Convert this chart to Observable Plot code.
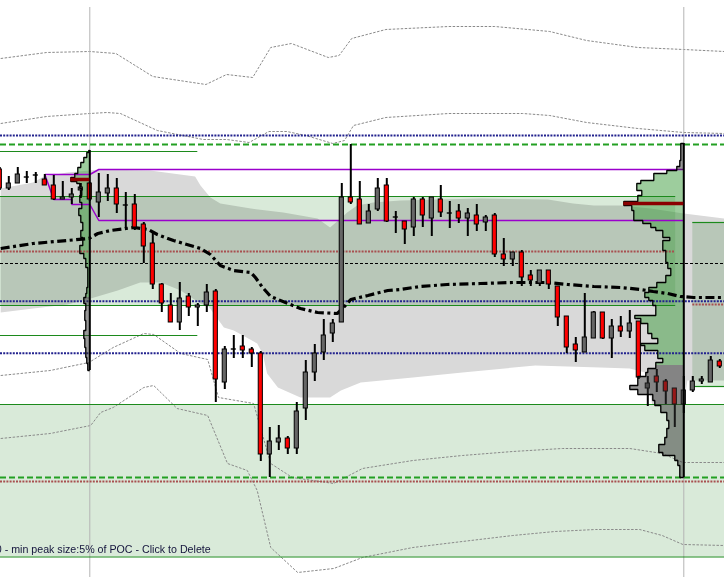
<!DOCTYPE html>
<html><head><meta charset="utf-8">
<script src="https://cdn.jsdelivr.net/npm/d3@7"></script>
<script src="https://cdn.jsdelivr.net/npm/@observablehq/plot@0.6"></script>
<style>html,body{margin:0;padding:0;background:#fff;overflow:hidden}#chart svg{display:block}</style>
</head><body><div id="chart"></div>
<script>
// ---------- candles (bar index 0..80), prices in chart units ----------
const opens  = [431,412,417,423,425,421,415,401,403,410, 417,398,407,412,395,396,376,357,316,295, 278,304,293,295,309,218,251,254,251,247, 146,158,162,152,192,228,248,267,278,403, 401,377,391,415,383,379,373,401,382,401, 387,389,382,385,378,385,346,341,348,325, 317,330,314,284,256,248,262,288,262,274, 269,279,212,224,219,212,196,210,219,218, 239];
const highs  = [433,424,433,429,428,426,425,419,412,417, 418,427,426,422,408,406,378,368,317,307, 318,307,297,316,311,254,265,265,253,249, 173,175,164,198,240,256,281,281,417,456, 419,396,422,422,389,379,403,403,403,415, 399,396,392,396,385,387,362,348,350,330, 330,330,314,284,263,307,289,288,281,284, 290,279,224,231,221,212,224,224,224,244, 241];
const lows   = [410,410,417,417,417,415,400,401,396,402, 399,383,399,387,372,370,337,311,288,278, 270,284,274,288,198,211,242,242,233,139, 123,150,146,146,180,219,240,258,278,396, 376,377,389,378,367,356,364,373,364,383, 372,377,364,369,369,343,334,334,314,314, 314,311,274,247,238,248,262,261,242,263, 262,221,194,208,196,173,187,208,216,218, 232];
const closes = [412,417,426,423,425,415,401,403,406,413, 401,408,412,396,395,373,354,316,297,278, 302,293,295,308,221,251,251,250,247,146, 159,162,152,189,228,247,265,277,403,398, 376,389,412,379,383,371,401,385,403,388, 387,382,387,376,383,346,341,348,323,320, 330,316,283,253,250,263,288,262,274,269, 277,223,217,218,209,196,210,219,221,240, 234];

// ---------- VWAP-like dash-dot line [bar, price] ----------
const vwapX = [0.1,3.7,7.5,9.9,10.9,12.3,14.9,16.5,17.5,19.3,22.3,23.4,24.5,26.0,27.9,28.4,29.2,30.1,32.0,33.4,35.3,37.5,38.2,39.0,40.9,43.1,44.5,46.7,49.7,53.4,57.1,60.9,63.1,66.0,69.0,71.2,72.6,74.2,75.6,77.1,80.5];
const vwapY = [352,357,360,362,367,370,373,371,366,360,352,346,335,330,328,323,313,304,297,292,288,287,293,301,305,310,311,314,316,317,318,318,316,314,313,311,309,307,304,303,303];

// ---------- grey envelope band ----------
const bandUpX = [0.1,3.7,4.9,7.5,9.9,11.2,16.7,21.7,22.3,23.4,24.5,27.9,31.5,35.3,36.7,37.6,38.6,39.7,41.5,44.5,53.4,60.9,63.7,66.0,69.0,72.3,76.0,80.5];
const bandUpY = [412,418,424,428,430,431,430,424,415,403,397,392,388,382,373,380,388,395,398,400,402,401,397,395,395,392,387,382];
const bandLoX = [0.1,3.7,7.5,10.1,13.1,15.6,17.9,20.1,22.3,23.2,24.9,26.0,28.6,29.2,29.7,30.9,33.4,36.7,37.9,40.1,45.9,51.4,59.5,66.7,70.0,71.7,72.5,76.0,76.4,80.5];
const bandLoY = [288,292,296,302,310,318,318,310,297,294,273,270,257,247,227,213,203,203,210,218,223,228,235,233,232,228,196,196,220,220];

// ---------- thin grey dashed deviation lines ----------
const dev1X = [0.1,5.2,10.0,12.9,17.0,22.9,25.2,28.1,30.1,32.4,36.5,37.7,39.1,42.9,49.9,55.0,61.1,65.2,70.9,76.0,80.5];
const dev1Y = [542,548,549,547,524,516,526,523,553,557,543,545,562,571,574,574,569,560,553,551,549];
const dev2X = [0.1,5.2,10.0,11.9,13.4,17.5,22.6,25.2,27.7,29.9,31.9,34.0,37.0,38.3,39.3,42.9,49.9,58.1,61.1,65.2,70.9,76.0,80.5];
const dev2Y = [477,484,487,488,487,470,461,461,458,469,469,465,457,460,475,483,487,487,485,478,472,468,467];
const dev3X = [0.1,5.6,9.9,12.6,16.0,17.1,20.1,23.1,24.3,28.2,30.1,32.5,37.1,40.3,45.9,51.4,57.0,62.5,70.0,73.6,75.9,80.5];
const dev3Y = [225,230,238,253,267,266,247,241,203,197,137,123,117,132,140,145,149,152,152,147,138,138];
const dev4X = [0.1,5.6,10.1,11.2,12.6,16.0,17.1,19.7,23.1,25.3,27.5,28.6,30.1,33.1,37.1,40.3,45.9,51.4,57.0,61.7,66.2,71.1,73.6,75.9,80.5];
const dev4Y = [162,167,175,188,193,213,215,192,185,137,130,110,53,28,32,43,53,59,65,69,71,71,65,56,55];

// ---------- zones and levels ----------
const xMin = 0.7 / 9, xMax = 724.7 / 9;
const zoneTop    = [404, 196, 378];
const zoneBottom = [295, 43.5, 214];
const zoneFrom   = [xMin, xMin, 77];
const zoneTo     = [75.1, xMax, xMax];
const greenPrices = [449, 404, 295, 265, 196, 43.5, 378, 214];
const greenFrom   = [xMin, xMin, xMin, xMin, xMin, xMin, 77, 77];
const greenTo     = [22, 75.1, 75.1, 22, xMax, xMax, xMax, xMax];
const bluePrices  = [465, 299.3, 247.3];
const redPrices   = [349, 119, 296];
const redFrom     = [xMin, xMin, 77];
const redTo       = [75.1, xMax, xMax];
const greenDashPrices = [456, 123];
const blackDashPrices = [337];
const sessionBars = [10, 76];
const purpleUpX = [5, 10, 11, 76];
const purpleUpY = [426, 426, 431, 431];
const purpleLoX = [5, 6, 8, 8, 10, 11, 76];
const purpleLoY = [426, 401, 401, 396, 396, 380, 380];

// ---------- volume profiles ----------
const leftEdges = [450,448,443,438,433,427,423,419,417,412,405,398,392,385,378,370,363,355,347,342,333,313,307,303,297,290,280,270,262,253,243,237,230];
const leftVols  = [1,3,6,9,12,15,19,13,10,8,10,8,11,9,7,9,7,10,6,4,2,3,4,6,4,5,4,6,5,4,3,2];
const leftAnchor = 10, leftVAH = 450, leftVAL = 303;
const rightEdges = [457,440,434,430,427,420,417,410,405,399,395,390,380,377,373,370,363,360,350,338,332,325,318,313,308,303,300,295,285,282,277,267,262,257,255,250,242,238,235,232,228,224,215,211,206,200,195,188,180,172,163,156,148,145,140,135,123];
const rightVols  = [3,4,7,17,30,43,47,42,46,60,52,50,41,33,28,21,14,21,18,16,13,18,27,35,39,35,31,28,49,43,36,32,26,43,39,26,21,28,28,36,38,46,54,46,31,29,23,17,15,17,19,25,21,9,6,4];
const rightAnchor = 76, rightVAH = 430, rightVAL = 235;
const volUnit = 1 / 9;

const caption = "0 - min peak size:5% of POC - Click to Delete";

// ---------- build tables ----------
const candles = opens.map((o, k) => ({k, open: o, high: highs[k], low: lows[k], close: closes[k]}));
const bodies = candles.filter(d => d.open !== d.close);
const dojis = candles.filter(d => d.open === d.close);
const pts = (xs, ys, name) => xs.map((x, i) => ({x, y: ys[i], name}));
const vwap = pts(vwapX, vwapY, "vwap");
const bandPoly = pts(bandUpX, bandUpY).concat(pts(bandLoX, bandLoY).reverse());
const devs = [].concat(pts(dev1X, dev1Y, "a"), pts(dev2X, dev2Y, "b"), pts(dev3X, dev3Y, "c"), pts(dev4X, dev4Y, "d"));
const zones = zoneTop.map((t, i) => ({top: t, bottom: zoneBottom[i], from: zoneFrom[i], to: zoneTo[i]}));
const levels = (ps, f, t) => ps.map((p, i) => ({p, x1: f ? f[i] : xMin, x2: t ? t[i] : xMax}));
const purple = pts(purpleUpX, purpleUpY, "up").concat(pts(purpleLoX, purpleLoY, "lo"));

function profile(edges, vols, anchor, vah, val) {
  const rows = vols.map((v, i) => ({top: edges[i], bot: edges[i + 1], x: anchor - v * volUnit, v,
    inVA: edges[i] <= vah && edges[i + 1] >= val}));
  const sections = [];
  rows.forEach(r => {
    const last = sections[sections.length - 1];
    if (last && last.inVA === r.inVA) last.rows.push(r); else sections.push({inVA: r.inVA, rows: [r]});
  });
  const fills = sections.map(s => ({inVA: s.inVA,
    verts: s.rows.flatMap(r => [{x: r.x, y: r.top}, {x: r.x, y: r.bot}])}));
  const outline = [{x: anchor, y: edges[0]}].concat(rows.flatMap(r => [{x: r.x, y: r.top}, {x: r.x, y: r.bot}]), [{x: anchor, y: edges[edges.length - 1]}]);
  const poc = rows.reduce((a, b) => (b.v > a.v ? b : a));
  return {anchor, fills, outline, poc: {x1: poc.x, x2: anchor, y: (poc.top + poc.bot) / 2},
    top: edges[0], bottom: edges[edges.length - 1]};
}
const profiles = [profile(leftEdges, leftVols, leftAnchor, leftVAH, leftVAL),
                  profile(rightEdges, rightVols, rightAnchor, rightVAH, rightVAL)];

const profileFills = (inVA) => profiles.flatMap(p => p.fills.filter(f => f.inVA === inVA).map(f =>
  Plot.areaX(f.verts, {x1: () => p.anchor, x2: "x", y: "y", fill: inVA ? "#3c9c3c" : "#303030", fillOpacity: 0.5})));

const flat = {strokeLinecap: "butt", strokeLinejoin: "miter"};
const chart = Plot.plot({
  width: 724, height: 577, margin: 0,
  x: {domain: [xMin, xMax], range: [0, 724], axis: null},
  y: {domain: [23, 600], range: [577, 0], axis: null},
  style: {background: "#fff", overflow: "visible"},
  marks: [
    Plot.rect(zones, {x1: "from", x2: "to", y1: "bottom", y2: "top", fill: "#d9ead9"}),
    Plot.line(bandPoly, {x: "x", y: "y", fill: "#d9d9d9", stroke: "none", mixBlendMode: "multiply"}),
    Plot.line(devs, {x: "x", y: "y", z: "name", stroke: "#8a8a8a", strokeWidth: 1, strokeDasharray: "2.5,1.5", ...flat}),
    Plot.ruleX(sessionBars, {x: d => d, y1: 23, y2: 593, stroke: "#b4b4b4", strokeWidth: 1}),
    ...profileFills(true),
    Plot.ruleY(levels(greenPrices, greenFrom, greenTo), {y: "p", x1: "x1", x2: "x2", stroke: "#1c8a1c", strokeWidth: 1.2}),
    Plot.ruleY(levels(bluePrices), {y: "p", x1: "x1", x2: "x2", stroke: "#22228e", strokeWidth: 2, strokeDasharray: "2,1.2", ...flat}),
    Plot.ruleY(levels(redPrices, redFrom, redTo), {y: "p", x1: "x1", x2: "x2", stroke: "#a85050", strokeWidth: 2, strokeDasharray: "2,1.2", ...flat}),
    Plot.ruleY(levels(greenDashPrices), {y: "p", x1: "x1", x2: "x2", stroke: "#23a023", strokeWidth: 2.2, strokeDasharray: "6,3", ...flat}),
    Plot.ruleY(levels(blackDashPrices), {y: "p", x1: "x1", x2: "x2", stroke: "#000", strokeWidth: 1, strokeDasharray: "3,2", ...flat}),
    Plot.line(purple, {x: "x", y: "y", z: "name", stroke: "#9a00cc", strokeWidth: 1.5, ...flat}),
    Plot.line(vwap, {x: "x", y: "y", stroke: "#000", strokeWidth: 3.2, strokeDasharray: "9,3.5,3,3.5", ...flat}),
    Plot.ruleX(candles, {x: "k", y1: "low", y2: "high", stroke: "#000", strokeWidth: 2}),
    Plot.rect(bodies, {x1: d => d.k - 0.23, x2: d => d.k + 0.23, y1: "open", y2: "close",
      fill: d => (d.close < d.open ? "#ff0000" : "#666666"), stroke: "#000", strokeWidth: 1}),
    Plot.rect(dojis, {x1: d => d.k - 0.28, x2: d => d.k + 0.28, y1: d => d.close - 0.7, y2: d => d.close + 0.7, fill: "#000"}),
    ...profileFills(false),
    ...profiles.map(p => Plot.line(p.outline, {x: "x", y: "y", stroke: "#000", strokeWidth: 1.3, ...flat})),
    Plot.ruleX(profiles, {x: "anchor", y1: "bottom", y2: "top", stroke: "#000", strokeWidth: 2}),
    Plot.ruleY(profiles.map(p => p.poc), {y: "y", x1: "x1", x2: "x2", stroke: "#8b0000", strokeWidth: 3.5}),
    Plot.text([caption], {x: -0.45, y: 51, text: d => d, textAnchor: "start", lineAnchor: "middle",
      fontSize: 10.67, fill: "#14143c", fontFamily: "Liberation Sans, Arial, sans-serif"})
  ]
});
document.getElementById("chart").append(chart);
</script>
</body></html>
